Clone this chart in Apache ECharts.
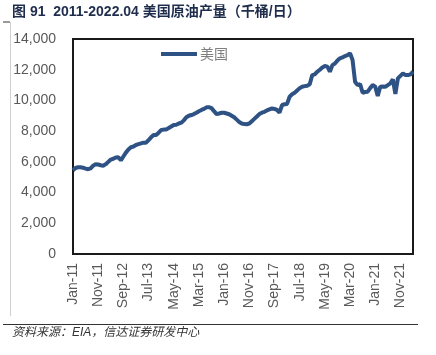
<!DOCTYPE html>
<html><head><meta charset="utf-8">
<script src="https://cdn.jsdelivr.net/npm/echarts@6/dist/echarts.min.js"></script>
<style>html,body{margin:0;padding:0;background:#fff}#c{width:436px;height:355px}</style>
</head><body><div id="c"></div>
<script>
var monthNames = ['Jan','Feb','Mar','Apr','May','Jun','Jul','Aug','Sep','Oct','Nov','Dec'];
var startYear = 2011, monthCount = 136;
var categories = [];
for (var i = 0; i < monthCount; i++) {
  var y = startYear + Math.floor(i / 12);
  categories.push(monthNames[i % 12] + '-' + String(y).slice(2));
}
var seriesName = '美国';
var usProduction = [
  5450, 5600, 5650, 5650, 5620, 5560, 5520, 5580, 5750, 5850, 5830, 5780,
  5750, 5850, 6000, 6150, 6200, 6280, 6300, 6100, 6350, 6600, 6800, 6950,
  7000, 7100, 7150, 7200, 7250, 7250, 7420, 7600, 7750, 7750, 7900, 8070,
  8100, 8110, 8200, 8300, 8400, 8420, 8500, 8550, 8700, 8900, 9000, 9050,
  9110, 9200, 9300, 9380, 9450, 9550, 9560, 9500, 9300, 9110, 9150, 9200,
  9200, 9150, 9100, 9000, 8900, 8750, 8600, 8500, 8460, 8450, 8500, 8650,
  8800, 8950, 9110, 9200, 9260, 9350, 9420, 9480, 9450, 9380, 9200, 9700,
  9750, 9770, 10240, 10400, 10500, 10650, 10800, 10890, 10930, 10960, 11050, 11650,
  11700, 11870, 12000, 12150, 12240, 12200, 11870, 12300, 12400, 12600, 12740, 12800,
  12890, 12950, 13070, 12630, 11220, 11000, 11070, 10500, 10550, 10570, 10800, 11000,
  10900, 10290, 10890, 10900, 10890, 11000, 11110, 11370, 10420, 11440, 11600, 11760,
  11650, 11650, 11700, 11870
];
var yTicks = [0, 2000, 4000, 6000, 8000, 10000, 12000, 14000];
var titleText = '图 91  2011-2022.04 美国原油产量（千桶/日）';
var sourceText = '资料来源：EIA，信达证券研发中心';

var chart = echarts.init(document.getElementById('c'));
chart.setOption({
  animation: false,
  textStyle: {fontFamily: 'Liberation Sans, Noto Sans CJK SC'},
  grid: {left: 73, right: 23, top: 39, bottom: 101, show: true, borderColor: '#1a1a1a', borderWidth: 2, backgroundColor: 'transparent'},
  legend: {
    data: [seriesName], left: 156, top: 42, itemWidth: 36, itemHeight: 4, itemGap: 4,
    icon: 'rect',
    textStyle: {color: '#7f7f7f', fontSize: 14, fontFamily: 'Noto Sans CJK SC', padding: [0, 0, 0, -2]}
  },
  xAxis: {
    type: 'category', data: categories, boundaryGap: false,
    axisLine: {show: false}, axisTick: {show: false},
    axisLabel: {interval: 9, rotate: 90, color: '#595959', fontSize: 14, margin: 9}
  },
  yAxis: {
    type: 'value', min: yTicks[0], max: yTicks[yTicks.length - 1], interval: 2000,
    axisLine: {show: false}, axisTick: {show: false}, splitLine: {show: false},
    axisLabel: {color: '#595959', fontSize: 14, margin: 17,
      formatter: function (v) { return v.toLocaleString('en-US'); }}
  },
  series: [{
    name: seriesName, type: 'line', data: usProduction, showSymbol: false,
    lineStyle: {color: '#2f5285', width: 4}, itemStyle: {color: '#2f5285'}
  }],
  graphic: [
    {type: 'text', left: 12, top: 5, style: {text: titleText, fill: '#1f2d4d', font: 'bold 14px "Liberation Sans", "Noto Sans CJK SC"'}},
    {type: 'line', shape: {x1: 3, y1: 22, x2: 10, y2: 22}, style: {stroke: '#333', lineWidth: 1}},
    {type: 'line', shape: {x1: 10.5, y1: 22, x2: 10.5, y2: 316}, style: {stroke: '#d0d0d0', lineWidth: 1}},
    {type: 'line', shape: {x1: 3, y1: 324.5, x2: 418, y2: 324.5}, style: {stroke: '#333', lineWidth: 1}},
    {type: 'text', left: 12, top: 327, style: {text: sourceText, fill: '#333', font: 'italic 12px "Liberation Sans", "Noto Sans CJK SC"'}}
  ]
});
</script></body></html>
